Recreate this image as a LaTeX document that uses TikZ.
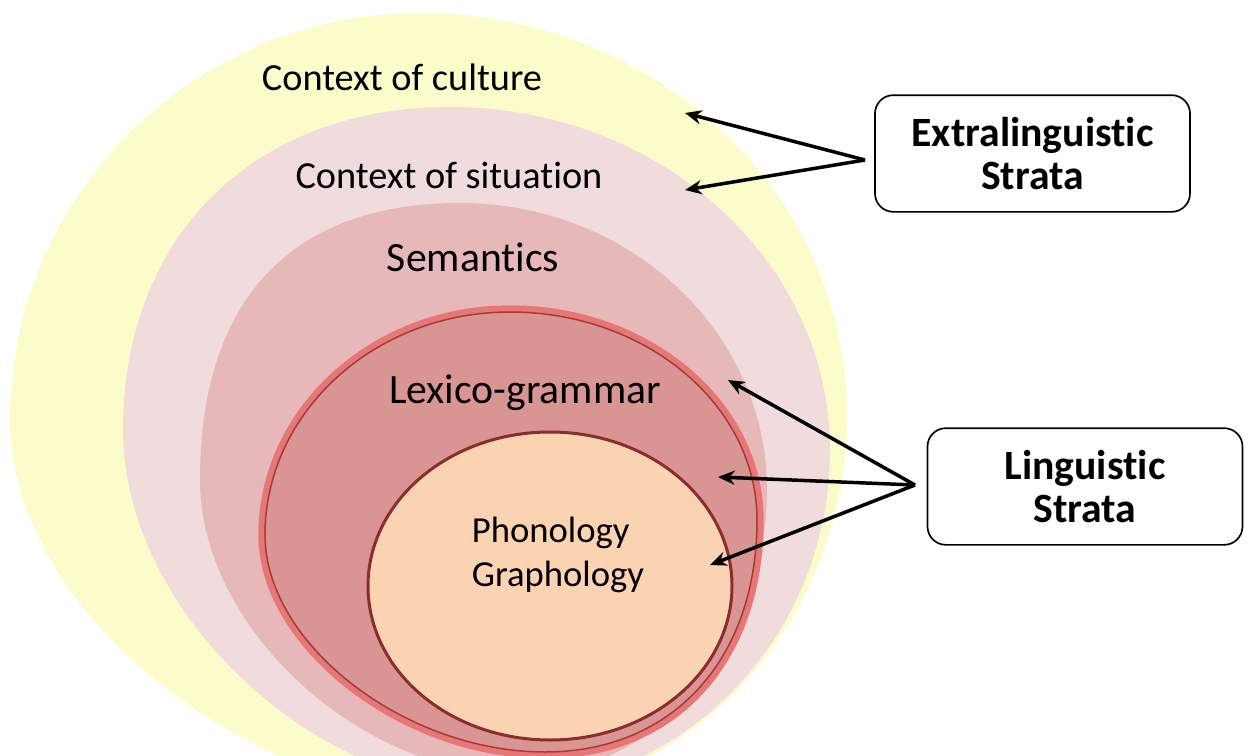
\documentclass[tikz,border=0pt]{standalone}
\usepackage{fontspec}
\setmainfont{Carlito}[Ligatures=NoCommon]
\usetikzlibrary{arrows.meta}

\definecolor{culturefill}{RGB}{252,252,202}
\definecolor{situationfill}{RGB}{240,220,221}
\definecolor{semanticsfill}{RGB}{230,184,185}
\definecolor{lexicofill}{RGB}{217,148,148}
\definecolor{lexicoglow}{RGB}{231,118,118}
\definecolor{lexicoline}{RGB}{165,58,58}
\definecolor{phonofill}{RGB}{250,211,178}
\definecolor{phonoline}{RGB}{140,45,45}

\tikzset{every picture/.style={line width=0.75pt}}
\tikzset{
  layertext/.style={inner sep=0.75pt, font=\fontsize{23}{28}\selectfont},
  stratabox/.style={draw, line width=1pt, rounded corners=11pt, minimum width=189pt, minimum height=70pt, align=center, font=\bfseries\fontsize{25}{25.5}\selectfont},
  pointer/.style={line width=2.1pt, -{Stealth[length=10pt,width=8.5pt]}}
}

\begin{document}
\begin{tikzpicture}[x=0.6pt,y=0.6pt,yscale=-1,xscale=1]
\useasboundingbox (0,0) rectangle (1250,756);
\clip (0,0) rectangle (1250,756);

%Shape: Closed Curve [context of culture]
\fill [culturefill] (10,420) .. controls (10,195) and (194,13) .. (420,13) .. controls (656,13) and (847,193) .. (847,415) .. controls (847,628) and (683,800) .. (480,800) .. controls (245,800) and (10,610) .. (10,420) -- cycle;
%Shape: Closed Curve [context of situation]
\fill [situationfill] (123,430) .. controls (123,236) and (254,107) .. (450,107) .. controls (660,107) and (830,261) .. (830,450) .. controls (830,638) and (682,790) .. (500,790) .. controls (312,790) and (123,610) .. (123,430) -- cycle;
%Shape: Closed Curve [semantics]
\fill [semanticsfill] (200,480) .. controls (200,300) and (291,203) .. (460,203) .. controls (630,203) and (767,332) .. (767,490) .. controls (767,647) and (656,775) .. (520,775) .. controls (360,775) and (200,628) .. (200,480) -- cycle;
%Shape: Closed Curve [lexico-grammar]
\draw [lexicoglow, line width=8pt] (265,535) .. controls (265,412) and (375,312) .. (510,312) .. controls (646,312) and (757,405) .. (757,520) .. controls (757,660) and (672,752) .. (545,752) .. controls (405,752) and (265,644) .. (265,535) -- cycle;
\draw [lexicoline, fill=lexicofill, line width=0.9pt] (265,535) .. controls (265,412) and (375,312) .. (510,312) .. controls (646,312) and (757,405) .. (757,520) .. controls (757,660) and (672,752) .. (545,752) .. controls (405,752) and (265,644) .. (265,535) -- cycle;
%Shape: Ellipse [phonology]
\draw [phonoline, fill=phonofill, line width=1.8pt] (550,586) ellipse (182 and 154);

% Text Node
\node [layertext] (culture) at (402,77) {Context of culture};
% Text Node
\node [layertext] (situation) at (449,175) {Context of situation};
% Text Node
\node [layertext, font=\fontsize{25}{30}\selectfont] (semantics) at (473,257) {Semantics};
% Text Node
\node [layertext, font=\fontsize{25}{30}\selectfont] (lexico) at (525,393) {Lexico-grammar};
% Text Node
\node [layertext, anchor=west, align=left, font=\fontsize{22}{26.4}\selectfont] (phono) at (470,555) {Phonology\\Graphology};

% Boxes
\node [stratabox] (extra) at (1032.5,153.5) {Extralinguistic\\Strata};
\node [stratabox] (ling) at (1085,486.5) {Linguistic\\Strata};

% Arrows
\coordinate (extrafork) at (865,160);
\coordinate (cultureend) at (685,113);
\coordinate (situationend) at (685,190);
\draw [pointer] (extrafork) -- (cultureend);
\draw [pointer] (extrafork) -- (situationend);

\coordinate (lingfork) at (915,485);
\coordinate (semanticsend) at (728,380);
\coordinate (lexicoend) at (718,477);
\coordinate (phonoend) at (710,565);
\draw [pointer] (lingfork) -- (semanticsend);
\draw [pointer] (lingfork) -- (lexicoend);
\draw [pointer] (lingfork) -- (phonoend);

\end{tikzpicture}
\end{document}
